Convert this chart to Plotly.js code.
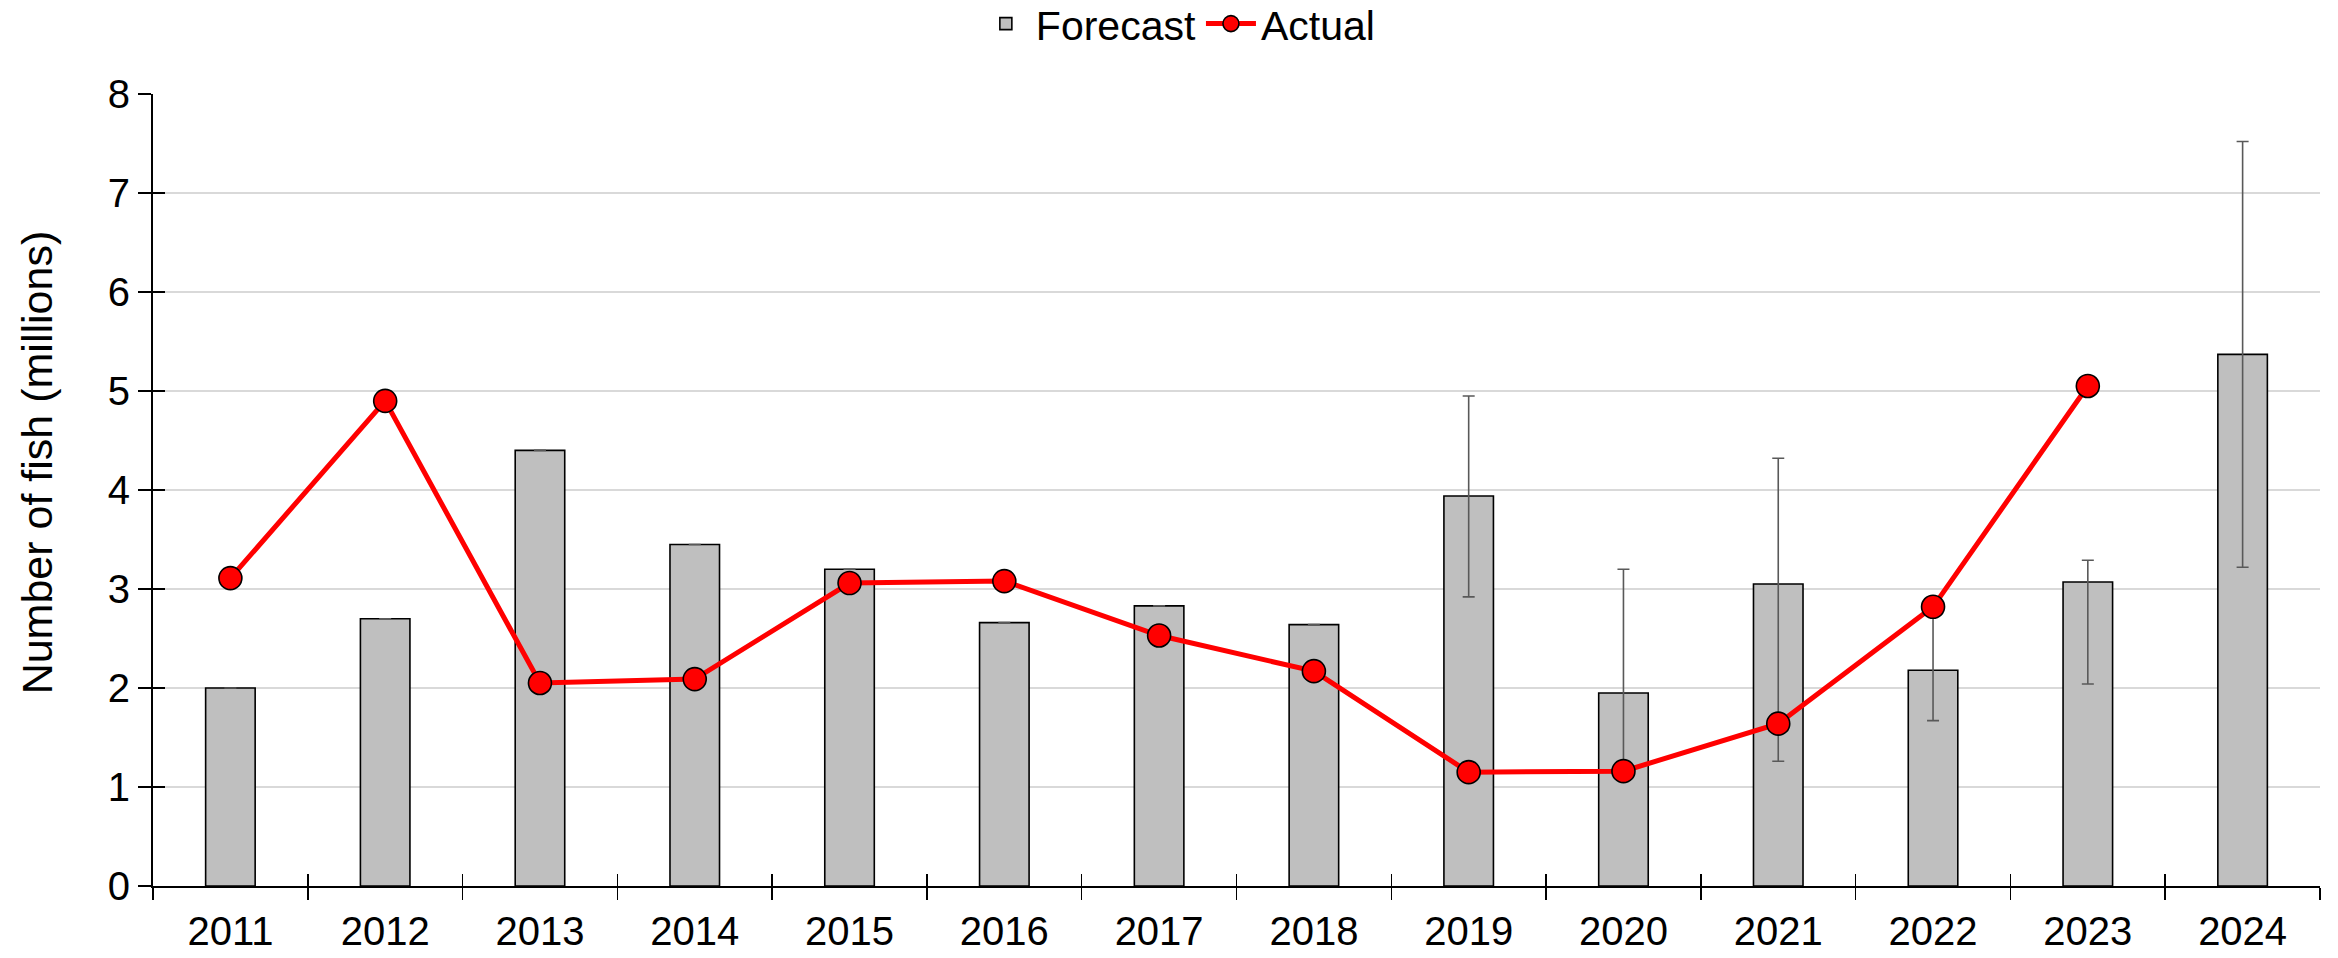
<!DOCTYPE html>
<html>
<head>
<meta charset="utf-8">
<script src="https://cdn.plot.ly/plotly-3.0.1.min.js"></script>
<style>html,body{margin:0;padding:0;background:#fff;}#chart{width:2338px;height:958px;}</style>
</head>
<body>
<div id="chart"></div>
<script>
const years = ["2011","2012","2013","2014","2015","2016","2017","2018","2019","2020","2021","2022","2023","2024"];
const forecast = [2.00, 2.70, 4.40, 3.45, 3.20, 2.66, 2.83, 2.64, 3.94, 1.95, 3.05, 2.18, 3.07, 5.37];
const forecastUpper = [null, null, null, null, null, null, null, null, 4.95, 3.20, 4.32, 2.78, 3.29, 7.52];
const forecastLower = [null, null, null, null, null, null, null, null, 2.92, 1.18, 1.26, 1.67, 2.04, 3.22];
const actualYears = ["2011","2012","2013","2014","2015","2016","2017","2018","2019","2020","2021","2022","2023"];
const actual = [3.11, 4.90, 2.05, 2.09, 3.06, 3.08, 2.53, 2.17, 1.15, 1.16, 1.64, 2.82, 5.05];
const yTitle = "Number of fish (millions)";

const errPlus = forecast.map((v, i) => forecastUpper[i] == null ? 0 : forecastUpper[i] - v);
const errMinus = forecast.map((v, i) => forecastLower[i] == null ? 0 : v - forecastLower[i]);

const FONT = "Liberation Sans, Arial, sans-serif";

const traces = [
  {
    type: "bar", name: "Forecast", x: years, y: forecast,
    xaxis: "x", yaxis: "y",
    marker: {color: "#BFBFBF", line: {color: "#000000", width: 1.6}},
    error_y: {type: "data", symmetric: false, array: errPlus, arrayminus: errMinus,
              color: "#595959", thickness: 1.6, width: 6, visible: true},
    hoverinfo: "x+y"
  },
  {
    type: "scatter", mode: "lines+markers", name: "Actual", x: actualYears, y: actual,
    xaxis: "x2", yaxis: "y2",
    line: {color: "#FF0000", width: 5},
    marker: {color: "#FF0000", size: 23, line: {color: "#000000", width: 1.6}}
  }
];

const catRange = [-0.5, years.length - 0.5];

const layout = {
  width: 2338, height: 958,
  paper_bgcolor: "#ffffff", plot_bgcolor: "#ffffff",
  margin: {l: 153, r: 18, t: 94, b: 72, autoexpand: false},
  font: {family: FONT, size: 40, color: "#000000"},
  bargap: 0.68,
  showlegend: true,
  legend: {
    orientation: "h", xref: "container", yref: "container",
    x: 0.504, xanchor: "center", y: 0.975, yanchor: "middle",
    font: {family: FONT, size: 41, color: "#000000"},
    itemwidth: 50, tracegroupgap: 0, traceorder: "normal"
  },
  xaxis: {
    type: "category", categoryorder: "array", categoryarray: years, range: catRange,
    showline: true, linecolor: "#000000", linewidth: 2,
    ticks: "outside", tickson: "boundaries", ticklen: 12, tickwidth: 1.5, tickcolor: "#000000",
    showgrid: false, zeroline: false, fixedrange: true, automargin: false, tickangle: 0,
    tickfont: {family: FONT, size: 40, color: "#000000"},
    ticklabelstandoff: 9
  },
  xaxis2: {
    type: "category", categoryorder: "array", categoryarray: years, range: catRange,
    overlaying: "x", anchor: "y2",
    showline: false, ticks: "inside", tickson: "boundaries", ticklen: 12, tickwidth: 1.5, tickcolor: "#000000",
    showticklabels: false, showgrid: false, zeroline: false, fixedrange: true
  },
  yaxis: {
    range: [0, 8], dtick: 1, tick0: 0,
    showline: true, linecolor: "#000000", linewidth: 2,
    ticks: "outside", ticklen: 13, tickwidth: 1.5, tickcolor: "#000000",
    showgrid: true, gridcolor: "#D9D9D9", gridwidth: 1.6, zeroline: false, fixedrange: true, automargin: false,
    tickfont: {family: FONT, size: 40, color: "#000000"}
  },
  yaxis2: {
    range: [0, 8], dtick: 1, tick0: 0,
    overlaying: "y", anchor: "x2", side: "left",
    showline: false, ticks: "inside", ticklen: 12, tickwidth: 1.5, tickcolor: "#000000",
    showticklabels: false, showgrid: false, zeroline: false, fixedrange: true
  },
  annotations: [{
    text: yTitle, textangle: -90, showarrow: false,
    xref: "paper", yref: "paper", x: -0.0535, y: 0.535,
    xanchor: "center", yanchor: "middle",
    font: {family: FONT, size: 43, color: "#000000"}
  }]
};

Plotly.newPlot("chart", traces, layout, {displayModeBar: false, staticPlot: true});
</script>
</body>
</html>
